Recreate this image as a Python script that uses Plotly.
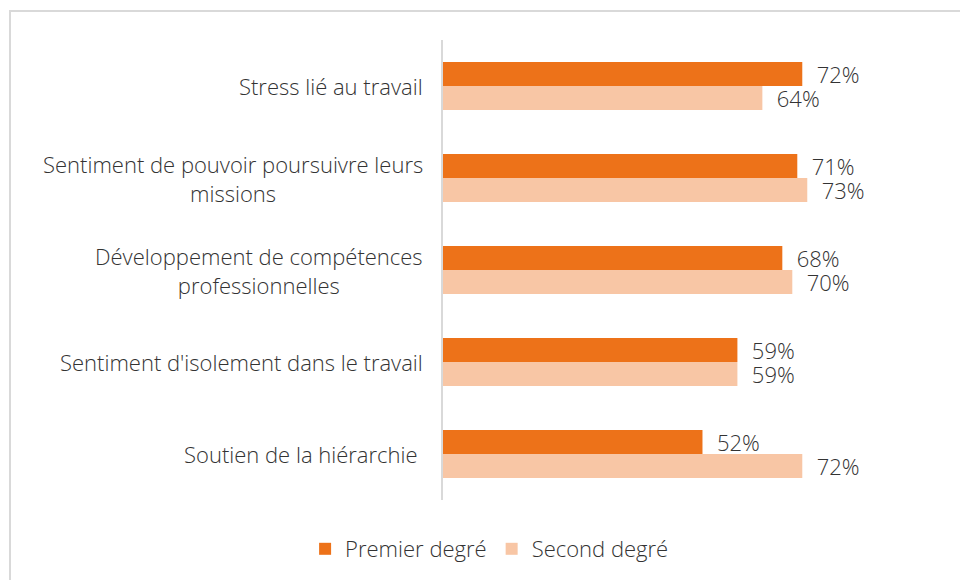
import plotly.graph_objects as go

categories = [
    "Stress lié au travail",
    "Sentiment de pouvoir poursuivre leurs<br>missions",
    "Développement de compétences<br>professionnelles",
    "Sentiment d'isolement dans le travail",
    "Soutien de la hiérarchie ",
]
premier = [72, 71, 68, 59, 52]
second = [64, 73, 70, 59, 72]
series_names = ["Premier degré", "Second degré"]
colors = ["#ED7219", "#F8C6A5"]

FONT = "Open Sans"
TXT = "#333333"
FS = 22

fig = go.Figure()
for name, vals, col in zip(series_names, [premier, second], colors):
    fig.add_trace(go.Bar(
        y=categories, x=vals, name=name, orientation="h",
        marker=dict(color=col, line=dict(width=0)),
        text=[f"\u00a0\u00a0{v}%" for v in vals],
        textposition="outside", cliponaxis=False, constraintext="none",
        textfont=dict(family=FONT, size=FS, color=TXT, weight=300),
    ))

for c in categories:
    fig.add_annotation(
        x=0, xref="paper", xanchor="right", xshift=-18,
        y=c, yref="y", text=c, showarrow=False, align="center",
        font=dict(family=FONT, size=FS, color=TXT, weight=300),
    )

W, H = 960, 580
L, R, T, B = 443, 18, 40, 80
pw, ph = W - L - R, H - T - B
def px(x):
    return (x - L) / pw
def py(y):
    return 1 - (y - T) / ph

fig.add_shape(
    type="path", xref="paper", yref="paper",
    path=f"M {px(10)} {py(600)} L {px(10)} {py(11)} L {px(970)} {py(11)}",
    line=dict(color="#D9D9D9", width=2),
)

fig.update_layout(
    width=W, height=H,
    margin=dict(l=L, r=R, t=T, b=B),
    paper_bgcolor="white", plot_bgcolor="white",
    barmode="group", bargap=0.48, bargroupgap=0,
    xaxis=dict(range=[0, 100], showticklabels=False, showgrid=False,
               zeroline=False, showline=False, ticks=""),
    yaxis=dict(autorange="reversed", showticklabels=False, showgrid=False,
               showline=True, linecolor="#D9D9D9", linewidth=2, ticks="",
               zeroline=False),
    legend=dict(orientation="h", x=0.51, xref="container", xanchor="center",
                y=(580 - 549) / 580, yref="container", yanchor="middle",
                font=dict(family=FONT, size=FS, color=TXT, weight=300),
                itemwidth=30, traceorder="normal"),
    showlegend=True,
    font=dict(family=FONT, size=FS, color=TXT),
)

fig.write_html("out.html")
